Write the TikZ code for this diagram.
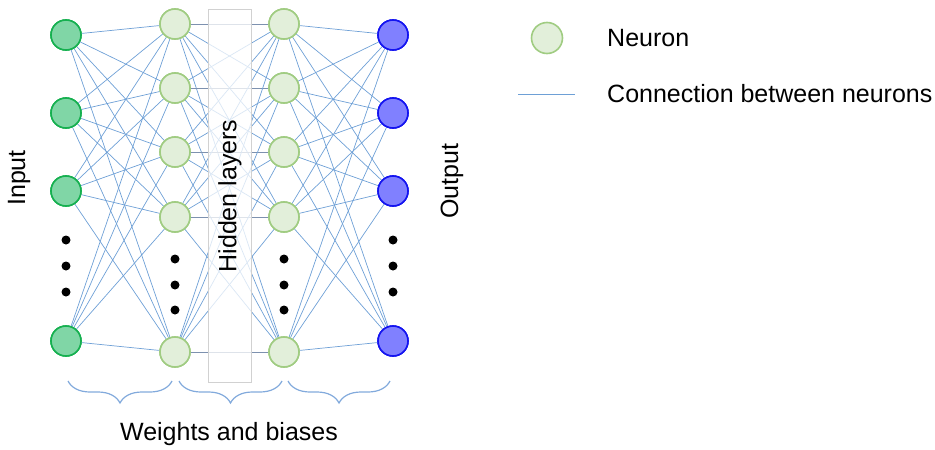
\documentclass[tikz,border=0pt]{standalone}
\usepackage{fontspec}
\setmainfont{Liberation Sans}
\usetikzlibrary{decorations.pathreplacing}
\definecolor{inFill}{RGB}{128,214,166}
\definecolor{inDraw}{RGB}{22,176,80}
\definecolor{hidFill}{RGB}{226,239,218}
\definecolor{hidDraw}{RGB}{160,204,130}
\definecolor{outFill}{RGB}{128,128,255}
\definecolor{outDraw}{RGB}{20,20,240}
\definecolor{conn}{RGB}{110,160,214}
\definecolor{connH}{RGB}{125,145,175}
\definecolor{braceC}{RGB}{130,170,220}
\tikzset{
  neuron/.style={circle,minimum size=30pt,inner sep=0pt,line width=1.6pt},
  inneuron/.style={neuron,fill=inFill,draw=inDraw},
  hidneuron/.style={neuron,fill=hidFill,draw=hidDraw},
  outneuron/.style={neuron,fill=outFill,draw=outDraw},
  connline/.style={draw=conn,line width=0.7pt},
  hconnline/.style={draw=connH,line width=0.8pt},
  dotmark/.style={circle,fill=black,inner sep=0pt,minimum size=9pt},
  lbl/.style={font=\fontsize{25}{30}\selectfont,inner sep=0pt},
  bracestyle/.style={draw=braceC,line width=1.2pt,decorate,decoration={brace,mirror,amplitude=22pt}},
}
\begin{document}
\begin{tikzpicture}[x=1pt,y=-1pt]
\useasboundingbox (0,0) rectangle (935,450);
\foreach \n/\y in {1/35,2/113,3/191,4/341}{
  \node[inneuron] (i\n) at (66,\y) {};
  \node[outneuron] (o\n) at (393,\y) {};
}
\foreach \n/\y in {1/24,2/88,3/152,4/217,5/352}{
  \node[hidneuron] (h\n) at (175,\y) {};
  \node[hidneuron] (g\n) at (284,\y) {};
}
% connections
\foreach \a in {1,...,4}{
  \foreach \b in {1,...,5}{
    \draw[connline] (i\a) -- (h\b);
    \draw[connline] (g\b) -- (o\a);
  }
}
\foreach \a in {1,...,5}{
  \foreach \b in {1,...,5}{
    \ifnum\a=\b
      \draw[hconnline] (h\a) -- (g\b);
    \else
      \draw[connline] (h\a) -- (g\b);
    \fi
  }
}
% hidden layers band
\node[draw=black!18,fill=white,fill opacity=0.75,line width=0.8pt,minimum width=43pt,minimum height=373pt,inner sep=0pt] (band) at (229.5,195.5) {};
\node[lbl,rotate=90] (hl) at (230,196) {Hidden layers};
% neurons on top
\foreach \n/\y in {1/35,2/113,3/191,4/341}{
  \node[inneuron] at (66,\y) {};
  \node[outneuron] at (393,\y) {};
}
\foreach \n/\y in {1/24,2/88,3/152,4/217,5/352}{
  \node[hidneuron] at (175,\y) {};
  \node[hidneuron] at (284,\y) {};
}
% dots
\foreach \x/\c in {66/i,393/o}{
  \foreach \y/\k in {240/1,266/2,292/3}{
    \node[dotmark] (d\c\k) at (\x,\y) {};
  }
}
\foreach \x/\c in {175/h,284/g}{
  \foreach \y/\k in {259/1,285/2,310/3}{
    \node[dotmark] (d\c\k) at (\x,\y) {};
  }
}
% labels
\node[lbl,rotate=90] (inlbl) at (19,178) {Input};
\node[lbl,rotate=90] (outlbl) at (452,181) {Output};
% braces
\coordinate (b1s) at (68,381); \coordinate (b1e) at (172,381);
\coordinate (b2s) at (179,381); \coordinate (b2e) at (282,381);
\coordinate (b3s) at (288,381); \coordinate (b3e) at (390,381);
\draw[bracestyle] (b1s) -- (b1e);
\draw[bracestyle] (b2s) -- (b2e);
\draw[bracestyle] (b3s) -- (b3e);
\node[lbl] (wb) at (229,434) {Weights and biases};
% legend
\node[hidneuron,minimum size=31pt] (legn) at (547,38) {};
\node[lbl,anchor=west] (legnt) at (607,38) {Neuron};
\coordinate (lc1) at (518,94); \coordinate (lc2) at (575,94);
\draw[connline] (lc1) -- (lc2);
\node[lbl,anchor=west] (legct) at (607,94) {Connection between neurons};
\end{tikzpicture}
\end{document}
